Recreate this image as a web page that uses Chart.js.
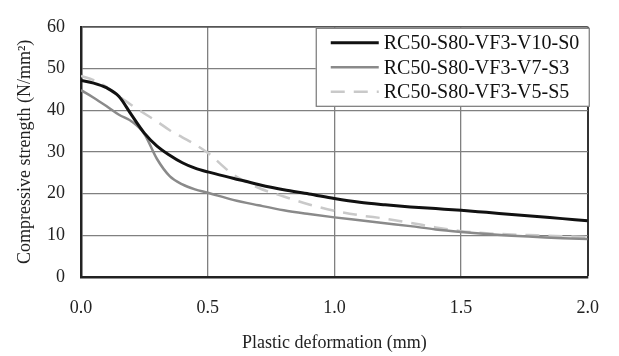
<!DOCTYPE html>
<html>
<head>
<meta charset="utf-8">
<script src="https://cdn.jsdelivr.net/npm/chart.js@4.4.1/dist/chart.umd.min.js"></script>
<style>
    html, body { margin: 0; padding: 0; background: #fff; }
    #wrap { width: 619px; height: 356px; }
</style>
</head>
<body>
<div id="wrap"><canvas id="strengthChart" width="619" height="356"></canvas></div>
<script>
// Plastic deformation (mm) sample points shared by all curves
const deformation = [0, 0.05, 0.1, 0.15, 0.2, 0.25, 0.3, 0.35, 0.4, 0.45, 0.5, 0.6, 0.7, 0.8, 0.9,
    1.0, 1.1, 1.2, 1.3, 1.4, 1.5, 1.6, 1.7, 1.8, 1.9, 2.0];

// Compressive strength (N/mm2) per specimen
const v10s0 = [47.1, 46.5, 45.4, 43.3, 38.8, 34.5, 31.4, 29.2, 27.4, 26.1, 25.2, 23.7, 22.2, 20.9, 19.9,
    18.8, 17.9, 17.3, 16.8, 16.4, 16.0, 15.5, 15.0, 14.5, 14.0, 13.5];
const v7s3 = [44.8, 43.0, 41.0, 38.9, 37.3, 34.3, 28.3, 24.2, 22.2, 21.0, 20.2, 18.5, 17.2, 16.0, 15.1,
    14.3, 13.6, 12.9, 12.2, 11.4, 10.8, 10.3, 9.9, 9.6, 9.3, 9.1];
const v5s5 = [48.2, 47.2, 45.6, 43.3, 41.2, 39.2, 37.3, 35.2, 33.5, 31.8, 29.8, 24.6, 21.4, 19.3, 17.4,
    15.9, 14.8, 14.0, 13.0, 11.9, 11.0, 10.5, 10.2, 10.0, 9.8, 9.6];

const seriesNames = ['RC50-S80-VF3-V10-S0', 'RC50-S80-VF3-V7-S3', 'RC50-S80-VF3-V5-S5'];
const xTicks = [0, 0.5, 1.0, 1.5, 2.0];
const yTicks = [0, 10, 20, 30, 40, 50, 60];

const SERIF = '"Liberation Serif", "DejaVu Serif", serif';

const toPoints = (ys) => deformation.map((x, i) => ({ x: x, y: ys[i] }));

// Boxed legend drawn over the upper right corner of the plot
const boxLegend = {
    id: 'boxLegend',
    afterDraw(chart) {
        const ctx = chart.ctx;
        const area = chart.chartArea;
        const w = 274, h = 79;
        const left = area.right + 2 - w;
        const top = area.top + 1;
        ctx.save();
        ctx.fillStyle = '#fff';
        ctx.fillRect(left, top, w, h);
        ctx.strokeStyle = '#777';
        ctx.lineWidth = 1.2;
        ctx.strokeRect(left + 0.5, top + 0.5, w - 1, h - 1);

        ctx.font = '20px ' + SERIF;
        ctx.textBaseline = 'middle';
        chart.data.datasets.forEach((ds, i) => {
            const y = top + 15 + i * 24.5;
            ctx.beginPath();
            ctx.strokeStyle = ds.borderColor;
            ctx.lineWidth = ds.borderWidth;
            ctx.setLineDash(ds.borderDash || []);
            ctx.moveTo(left + 15, y);
            ctx.lineTo(left + 63, y);
            ctx.stroke();
            ctx.setLineDash([]);
            ctx.fillStyle = '#111';
            ctx.fillText(ds.label, left + 68, y + 1);
        });
        ctx.restore();
    }
};

const ctx = document.getElementById('strengthChart').getContext('2d');
new Chart(ctx, {
    type: 'line',
    data: {
        datasets: [
            {
                label: seriesNames[0],
                data: toPoints(v10s0),
                borderColor: '#111',
                borderWidth: 3,
                pointRadius: 0,
                cubicInterpolationMode: 'monotone'
            },
            {
                label: seriesNames[1],
                data: toPoints(v7s3),
                borderColor: '#8a8a8a',
                borderWidth: 2.5,
                pointRadius: 0,
                cubicInterpolationMode: 'monotone'
            },
            {
                label: seriesNames[2],
                data: toPoints(v5s5),
                borderColor: '#c9c9c9',
                borderWidth: 2.5,
                borderDash: [14, 9],
                pointRadius: 0,
                cubicInterpolationMode: 'monotone'
            }
        ]
    },
    options: {
        responsive: false,
        animation: false,
        layout: { padding: { top: 17, right: 22, left: 0, bottom: 0 } },
        plugins: {
            legend: { display: false },
            tooltip: { enabled: false }
        },
        scales: {
            x: {
                type: 'linear',
                min: 0,
                max: 2,
                afterBuildTicks: (scale) => { scale.ticks = xTicks.map(v => ({ value: v })); },
                afterFit: (scale) => { scale.height = 79; },
                ticks: {
                    color: '#222',
                    font: { family: SERIF, size: 18 },
                    padding: 20,
                    maxRotation: 0,
                    callback: (v) => v.toFixed(1)
                },
                grid: {
                    drawTicks: false,
                    color: (c) => c.tick && c.tick.value === 2 ? '#333' : '#808080',
                    lineWidth: (c) => c.tick && c.tick.value === 2 ? 2 : 1.3
                },
                border: { color: '#222', width: 2.5 },
                title: {
                    display: true,
                    text: 'Plastic deformation (mm)',
                    color: '#222',
                    font: { family: SERIF, size: 18 },
                    padding: { top: 0, bottom: 2 }
                }
            },
            y: {
                min: 0,
                max: 60,
                afterBuildTicks: (scale) => { scale.ticks = yTicks.map(v => ({ value: v })); },
                afterFit: (scale) => { scale.width = 81; },
                ticks: {
                    color: '#222',
                    font: { family: SERIF, size: 18 },
                    padding: 16
                },
                grid: {
                    drawTicks: false,
                    color: (c) => c.tick && c.tick.value === 60 ? '#555' : '#808080',
                    lineWidth: (c) => c.tick && c.tick.value === 60 ? 1.8 : 1.3
                },
                border: { color: '#222', width: 2.5 },
                title: {
                    display: true,
                    text: 'Compressive strength (N/mm²)',
                    color: '#222',
                    font: { family: SERIF, size: 18 },
                    padding: { top: 14, bottom: 0 }
                }
            }
        }
    },
    plugins: [boxLegend]
});
</script>
</body>
</html>
